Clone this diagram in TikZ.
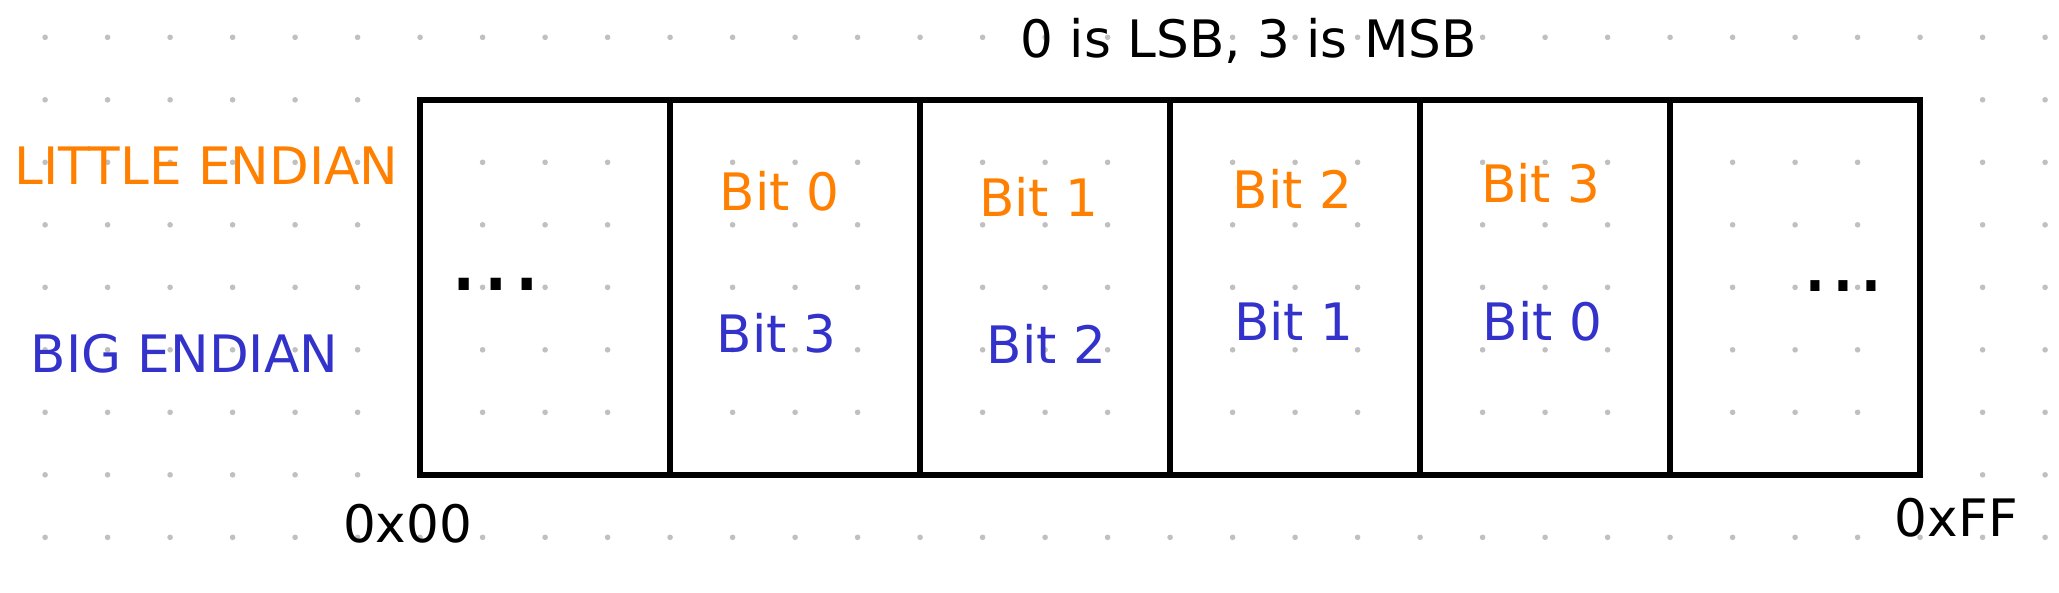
\documentclass[tikz,border=0pt]{standalone}
\usepackage{fontspec}
\setmainfont{DejaVu Sans}
\definecolor{littleorange}{RGB}{255,128,0}
\definecolor{bigblue}{RGB}{51,51,204}
\definecolor{griddot}{RGB}{192,192,192}
\tikzset{
    cell/.style={draw,line width=2.5pt,minimum width=4cm,minimum height=6cm,inner sep=0pt},
    label/.style={anchor=base,inner sep=0pt,font=\fontsize{23.5}{28}\selectfont},
    more/.style={anchor=base,inner sep=0pt}
}
\begin{document}
\begin{tikzpicture}
        \useasboundingbox (-0.7216,-0.875) rectangle (32.2224,8.597);
        % grid dots
        \foreach \x in {0,...,32}{
            \foreach \y in {0,...,8}{
                \fill[griddot] (\x,\y) circle (0.045);
            }
        }
        \def \Cells{ 1/8, 2/12, 3/16, 4/20, 5/24, 6/28}
        \def \Little{ 0/11.75/5.23, 1/15.9/5.13, 2/19.96/5.26, 3/23.93/5.35}
        \def \Big{ 3/11.7/2.96, 2/16.02/2.78, 1/19.98/3.15, 0/23.96/3.15}
        \foreach \id / \x in \Cells{
            \node[cell] (c\id) at (\x,4) {};
        }
        \foreach \b / \x / \y in \Little{
            \node[label,text=littleorange] (le\b) at (\x,\y) {Bit \b};
        }
        \foreach \b / \x / \y in \Big{
            \node[label,text=bigblue] (be\b) at (\x,\y) {Bit \b};
        }
        \node[label,text=littleorange] (little) at (2.58,5.65) {LITTLE ENDIAN};
        \node[label,text=bigblue] (big) at (2.23,2.63) {BIG ENDIAN};
        \node[label] (title) at (19.26,7.68) {0 is LSB, 3 is MSB};
        \node[label] (start) at (5.8,-0.09) {0x00};
        \node[label] (end) at (30.58,0.02) {0xFF};
        \node[more,font=\fontsize{45}{50}\selectfont] (moreleft) at (7.21,3.95) {...};
        \node[more,font=\fontsize{40}{45}\selectfont] (moreright) at (28.77,3.93) {...};
    \end{tikzpicture}
\end{document}
